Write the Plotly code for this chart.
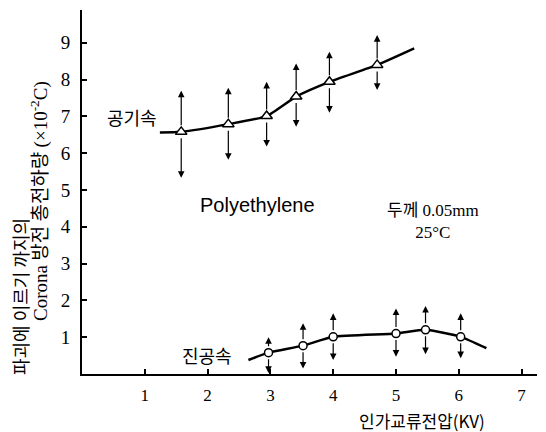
import plotly.graph_objects as go

# ---- data ----
air_x = [1.58, 2.33, 2.94, 3.41, 3.94, 4.70]
air_y = [6.58, 6.79, 7.01, 7.54, 7.94, 8.40]
air_hi = [7.70, 7.78, 7.94, 8.44, 8.76, 9.21]
air_lo = [5.33, 5.82, 6.18, 6.72, 7.10, 7.72]
air_curve_x = [1.24, 1.58, 2.33, 2.94, 3.41, 3.94, 4.70, 5.29]
air_curve_y = [6.56, 6.58, 6.79, 7.01, 7.54, 7.94, 8.40, 8.85]

vac_x = [2.97, 3.52, 4.00, 5.00, 5.47, 6.03]
vac_y = [0.58, 0.77, 1.01, 1.10, 1.20, 1.01]
vac_hi = [1.00, 1.38, 1.65, 1.78, 1.85, 1.65]
vac_lo = [0.03, 0.15, 0.38, 0.47, 0.54, 0.43]
vac_curve_x = [2.65, 2.97, 3.52, 4.00, 5.00, 5.47, 6.03, 6.44]
vac_curve_y = [0.38, 0.58, 0.77, 1.01, 1.10, 1.20, 1.01, 0.70]

x_ticks = [1, 2, 3, 4, 5, 6, 7]
y_ticks = [1, 2, 3, 4, 5, 6, 7, 8, 9]

SERIF = "Liberation Serif"
KR = "Noto Sans CJK KR"

# page body has an 8px margin: figure origin sits at (8, 8) in the window
OFF = 8
W, H = 546 - OFF, 432 - OFF
L, T = 82 - OFF, 10 - OFF          # plot area left/top in figure px
PW, PH = 455, 364                   # plot area size
R, B = W - L - PW, H - T - PH

fig = go.Figure()

fig.add_trace(go.Scatter(x=air_curve_x, y=air_curve_y, mode="lines",
                         line=dict(color="black", width=2.5, shape="spline", smoothing=0.5),
                         hoverinfo="skip", showlegend=False))
fig.add_trace(go.Scatter(x=air_x, y=air_y, mode="markers",
                         marker=dict(symbol="triangle-up", size=10, color="white",
                                     line=dict(color="black", width=1.5)),
                         showlegend=False))
fig.add_trace(go.Scatter(x=vac_curve_x, y=vac_curve_y, mode="lines",
                         line=dict(color="black", width=2.5, shape="spline", smoothing=0.5),
                         hoverinfo="skip", showlegend=False))
fig.add_trace(go.Scatter(x=vac_x, y=vac_y, mode="markers",
                         marker=dict(symbol="circle", size=8, color="white",
                                     line=dict(color="black", width=1.5)),
                         showlegend=False))

anns = []
def arrows(xs, ys, his, los):
    for x, y, h, l in zip(xs, ys, his, los):
        for tip in (h, l):
            anns.append(dict(x=x, y=tip, ax=x, ay=y, xref="x", yref="y",
                             axref="x", ayref="y", showarrow=True, text="",
                             arrowhead=2, arrowsize=1.1, arrowwidth=1.2,
                             arrowcolor="black", startstandoff=5))

arrows(air_x, air_y, air_hi, air_lo)
arrows(vac_x, vac_y, vac_hi, vac_lo)

def txt(x, y, s, size=15, family=KR, xref="x", yref="y", angle=0):
    anns.append(dict(x=x, y=y, xref=xref, yref=yref, text=s, showarrow=False,
                     font=dict(family=family, size=size, color="black"),
                     textangle=angle, xanchor="center", yanchor="middle"))

# window pixel -> paper
def px(p):
    return (p - 82) / PW
def py(p):
    return (374 - p) / PH

txt(0.80, 6.98, "공기속", 18)
txt(1.99, 0.52, "진공속", 18)
txt(2.80, 4.59, "Polyethylene", 20, "Liberation Sans")
txt(px(433), py(219),
    "<span style='font-family:Noto Sans CJK KR'>두께</span> 0.05mm<br>25°C",
    17, SERIF, "paper", "paper")

txt(px(422), py(420), "인가교류전압(KV)", 17, KR, "paper", "paper")
txt(px(20), py(297), "파괴에 이르기 까지의", 18, KR, "paper", "paper", -90)
txt(px(38), py(201),
    "<span style='font-family:Liberation Serif'>Corona</span> 방전 총전하량 "
    "<span style='font-family:Liberation Serif'>(×10<sup>-2</sup>C)</span>",
    19, KR, "paper", "paper", -90)

fig.update_layout(
    width=W, height=H,
    margin=dict(l=L, r=R, t=T, b=B, pad=0),
    paper_bgcolor="white", plot_bgcolor="white",
    font=dict(family=SERIF, color="black"),
    annotations=anns,
    xaxis=dict(range=[0, PW / 62.8], tickvals=x_ticks,
               ticks="inside", ticklen=5, tickwidth=1.5, tickcolor="black",
               showline=True, linecolor="black", linewidth=2, showgrid=False,
               zeroline=False, ticklabelstandoff=5,
               tickfont=dict(family=SERIF, size=17, color="black")),
    yaxis=dict(range=[0, PH / 36.8], tickvals=y_ticks,
               ticks="inside", ticklen=5, tickwidth=1.5, tickcolor="black",
               showline=True, linecolor="black", linewidth=2, showgrid=False,
               zeroline=False, ticklabelstandoff=6,
               tickfont=dict(family=SERIF, size=19, color="black")),
)

fig.write_html("out.html")
